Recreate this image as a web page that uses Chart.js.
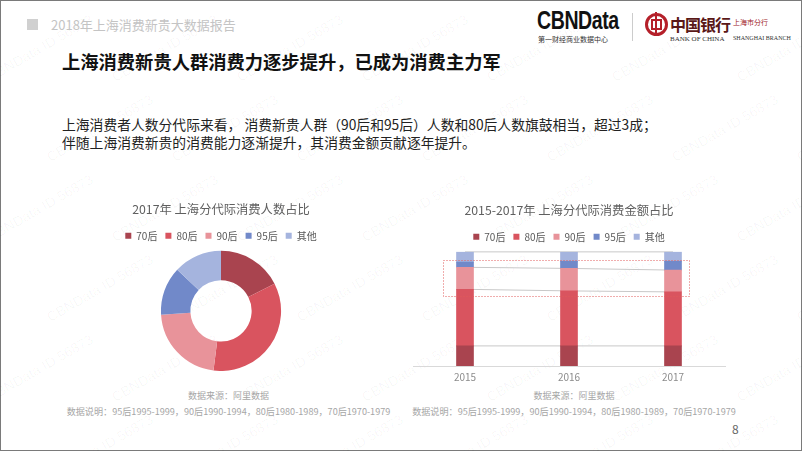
<!DOCTYPE html>
<html>
<head>
<meta charset="utf-8">
<script src="https://cdn.jsdelivr.net/npm/chart.js@4"></script>
<style>
  html, body { margin: 0; padding: 0; background: #fff; }
  body { width: 802px; height: 451px; position: relative; overflow: hidden;
         font-family: 'Noto Sans CJK SC', 'Noto Sans', sans-serif; }
  .frame { position: absolute; left: 0; top: 0; width: 800px; height: 449px; border: 1px solid #7a7a7a; }
  .abs { position: absolute; white-space: nowrap; }
  .wm { position: absolute; color: rgba(0,0,0,0.035); font: 14px 'Liberation Sans', sans-serif;
        transform: rotate(-30deg); white-space: nowrap; }
  canvas { position: absolute; }
</style>
</head>
<body>
<div class="frame"></div>
<div id="wms"></div>

<!-- header -->
<div class="abs" style="left:27px;top:19px;width:11px;height:11px;background:#d0d0d0;"></div>
<div class="abs" style="left:51px;top:15px;font-size:13px;color:#c4c4c4;">2018年上海消费新贵大数据报告</div>

<div class="abs" style="left:537px;top:6px;font:bold 25px 'Liberation Sans',sans-serif;color:#111;transform:scaleX(0.78);transform-origin:left top;letter-spacing:-0.5px;">CBNData</div>
<div class="abs" style="left:538px;top:34px;font-size:7px;color:#333;">第一财经商业数据中心</div>
<div class="abs" style="left:632px;top:13px;width:1px;height:28px;background:#ccc;"></div>
<div class="abs" style="left:645px;top:13px;width:17px;height:17px;border:3px solid #b5202a;border-radius:50%;"></div>
<div class="abs" style="left:651px;top:19px;width:7px;height:7px;border:2px solid #b5202a;"></div>
<div class="abs" style="left:655px;top:12px;width:2px;height:23px;background:#b5202a;"></div>
<div class="abs" style="left:670px;top:12px;font-size:16px;color:#5a1818;font-family:'Noto Sans CJK SC';font-weight:bold;letter-spacing:-1px;">中国银行</div>
<div class="abs" style="left:733px;top:17px;font-size:7px;color:#a02028;">上海市分行</div>
<div class="abs" style="left:670px;top:35px;font:7px 'Liberation Serif',serif;color:#333;">BANK OF CHINA</div>
<div class="abs" style="left:733px;top:35px;font:6px 'Liberation Serif',serif;color:#333;">SHANGHAI BRANCH</div>

<!-- title and text -->
<div class="abs" style="left:62px;top:48px;font-size:18.3px;font-weight:bold;color:#111;">上海消费新贵人群消费力逐步提升，已成为消费主力军</div>
<div class="abs" style="left:62px;top:115px;font-size:13.8px;color:#222;line-height:18px;">上海消费者人数分代际来看， 消费新贵人群（90后和95后）人数和80后人数旗鼓相当，超过3成；<br>伴随上海消费新贵的消费能力逐渐提升，其消费金额贡献逐年提升。</div>

<canvas id="pie" style="left:110px;top:188px;" width="222" height="183"></canvas>
<canvas id="bars" style="left:405px;top:187px;" width="325" height="201"></canvas>

<!-- notes -->
<div class="abs" style="left:66px;top:389px;width:325px;text-align:center;font-size:9px;color:#a6a6a6;">数据来源：阿里数据</div>
<div class="abs" style="left:66px;top:404px;width:325px;text-align:center;font-size:9.1px;color:#a6a6a6;">数据说明：95后1995-1999，90后1990-1994，80后1980-1989，70后1970-1979</div>
<div class="abs" style="left:411px;top:389px;width:326px;text-align:center;font-size:9px;color:#a6a6a6;">数据来源：阿里数据</div>
<div class="abs" style="left:411px;top:404px;width:326px;text-align:center;font-size:9.1px;color:#a6a6a6;">数据说明：95后1995-1999，90后1990-1994，80后1980-1989，70后1970-1979</div>
<div class="abs" style="left:732px;top:420px;font-size:12px;color:#666;">8</div>

<script>
// Data
const groups = ['70后', '80后', '90后', '95后', '其他'];
const groupColors = ['#a9444f', '#d9545f', '#e8939a', '#7189c9', '#a5b4de'];

// 2017 share of consumers (%)
const peopleShare2017 = [17.5, 34.5, 22, 13, 13];

// 2015-2017 share of spending (%)
const years = ['2015', '2016', '2017'];
const spend70 = [17.6, 17.6, 17.6];
const spend80 = [49.6, 48.2, 47.3];
const spend90 = [19.3, 19.7, 19.1];
const spend95 = [4.5, 6.1, 7.6];
const spendOther = [9.0, 8.4, 8.4];

// highlighted band (value range on the % axis)
const highlightTop = 93.3;
const highlightBottom = 61.8;

// watermarks
const wms = document.getElementById('wms');
for (let r = 0; r < 6; r++) {
    for (let c = 0; c < 7; c++) {
        const d = document.createElement('div');
        d.className = 'wm';
        d.textContent = 'CBNData ID:56873';
        d.style.left = (c * 125 - 20 + (r % 2) * 60) + 'px';
        d.style.top = (r * 80 + 40) + 'px';
        wms.appendChild(d);
    }
}

Chart.defaults.font.family = "'Noto Sans CJK SC', 'Noto Sans', sans-serif";
Chart.defaults.color = '#595959';
Chart.defaults.animation = false;

const legendOpts = {
    display: true,
    labels: {
        boxWidth: 6,
        boxHeight: 6,
        padding: 8,
        color: '#595959',
        font: { size: 10 }
    }
};

const titleOpts = (text) => ({
    display: true,
    text: text,
    color: '#5f5f5f',
    font: { size: 12.3, weight: 'normal' },
    padding: { top: 7.5, bottom: 6.6 }
});

// Doughnut
new Chart(document.getElementById('pie'), {
    type: 'doughnut',
    data: {
        labels: groups,
        datasets: [{
            data: peopleShare2017,
            backgroundColor: groupColors,
            borderWidth: 0
        }]
    },
    options: {
        responsive: false,
        cutout: '51%',
        layout: { padding: { top: 6 } },
        plugins: {
            title: titleOpts('2017年 上海分代际消费人数占比'),
            legend: legendOpts,
            tooltip: { enabled: false }
        }
    }
});

// Stacked bars
const spendSeries = [spend70, spend80, spend90, spend95, spendOther];
const cumulative = (n) => years.map((_, i) => {
    let s = 0;
    for (let k = 0; k < n; k++) s += spendSeries[k][i];
    return s;
});

const barSets = groups.map((g, k) => ({
    type: 'bar',
    label: g,
    data: spendSeries[k],
    backgroundColor: groupColors[k],
    barThickness: 17,
    order: 0
}));

const lineSets = [5, 3, 2, 1].map(n => ({
    type: 'line',
    label: 'sum' + n,
    data: cumulative(n),
    yAxisID: 'y2',
    borderColor: '#c8c8c8',
    borderWidth: 1,
    pointRadius: 0,
    fill: false,
    clip: false,
    order: 10
}));

const highlightBox = {
    id: 'highlightBox',
    afterDatasetsDraw(chart) {
        const { ctx, scales: { x, y } } = chart;
        const left = x.getPixelForValue(0) - 22;
        const right = x.getPixelForValue(2) + 16;
        const top = y.getPixelForValue(highlightTop);
        const bottom = y.getPixelForValue(highlightBottom);
        ctx.save();
        ctx.strokeStyle = '#e05a5a';
        ctx.lineWidth = 1;
        ctx.setLineDash([1, 2]);
        ctx.strokeRect(Math.round(left) + 0.5, Math.round(top) + 0.5, Math.round(right - left), Math.round(bottom - top));
        ctx.restore();
    }
};

new Chart(document.getElementById('bars'), {
    data: {
        labels: years,
        datasets: barSets.concat(lineSets)
    },
    options: {
        responsive: false,
        layout: { padding: { left: 8, right: 5, top: 8, bottom: 0 } },
        scales: {
            x: {
                stacked: true,
                offset: true,
                grid: { display: false, drawTicks: false },
                border: { display: true, color: '#d9d9d9' },
                ticks: { color: '#8c8c8c', font: { size: 10 }, padding: 5 }
            },
            y: { stacked: true, min: 0, max: 100, display: false },
            y2: { min: 0, max: 100, display: false }
        },
        plugins: {
            title: titleOpts('2015-2017年 上海分代际消费金额占比'),
            legend: {
                ...legendOpts,
                labels: {
                    ...legendOpts.labels,
                    filter: (item) => groups.includes(item.text)
                }
            },
            tooltip: { enabled: false }
        }
    },
    plugins: [highlightBox]
});
</script>
</body>
</html>
